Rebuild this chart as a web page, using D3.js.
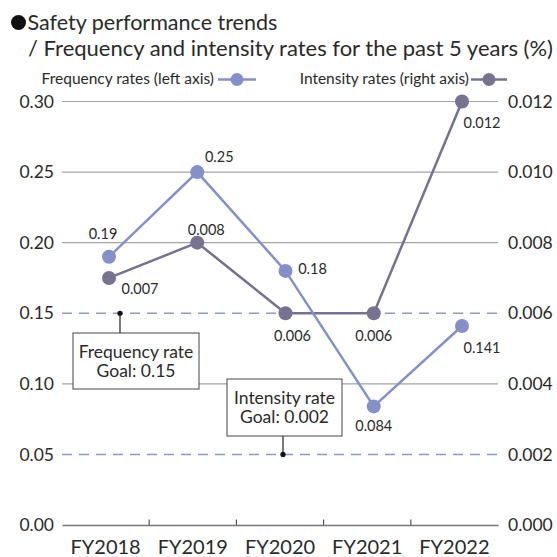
<!DOCTYPE html>
<html>
<head>
<meta charset="utf-8">
<script src="https://cdn.jsdelivr.net/npm/d3@7"></script>
<style>
  html, body { margin: 0; padding: 0; background: #fff; }
  svg { display: block; font-family: Lato, "Open Sans", sans-serif; }
</style>
</head>
<body>
<svg id="chart" width="557" height="557"></svg>
<script>
// Fiscal years on the x axis
const years = ['FY2018', 'FY2019', 'FY2020', 'FY2021', 'FY2022'];
// Lost-time injury frequency rate (left axis)
const frequencyRates = [0.19, 0.25, 0.18, 0.084, 0.141];
// Severity / intensity rate (right axis)
const intensityRates = [0.007, 0.008, 0.006, 0.006, 0.012];
// Axis ticks
const leftTicks = [0, 0.05, 0.10, 0.15, 0.20, 0.25, 0.30];
const rightTicks = [0, 0.002, 0.004, 0.006, 0.008, 0.010, 0.012];
// Targets
const frequencyGoal = 0.15;
const intensityGoal = 0.002;

const FREQ_COLOR = '#8490ca';
const INT_COLOR = '#77728f';
const GRID_COLOR = '#a3a3a3';
const GOAL_DASH = '#8f97c9';
const TEXT = '#2a2a2a';

const svg = d3.select('#chart');

const plotLeft = 62, plotRight = 498, plotTop = 101.5, plotBottom = 525;

const xBand = d3.scaleBand().domain(years).range([plotLeft, plotRight]);
const xPoint = d3.scalePoint().domain(years).range([109, 462]);
const yLeft = d3.scaleLinear().domain([0, 0.30]).range([plotBottom, plotTop]);
const yRight = d3.scaleLinear().domain([0, 0.012]).range([plotBottom, plotTop]);

// Title
const title = svg.append('g').attr('fill', TEXT);
title.append('circle').attr('cx', 18.5).attr('cy', 22.5).attr('r', 7.5).attr('fill', '#111');
title.append('text').attr('x', 27.5).attr('y', 30).attr('font-size', 21.5).text('Safety performance trends');
title.append('text').attr('x', 28).attr('y', 56).attr('font-size', 22)
  .text('/ Frequency and intensity rates for the past 5 years (%)');

// Legend
function legendItem(textEnd, lineStart, lineEnd, color, label) {
  const g = svg.append('g');
  g.append('text').attr('x', textEnd).attr('y', 84).attr('text-anchor', 'end')
    .attr('font-size', 15.5).attr('fill', TEXT).text(label);
  g.append('line').attr('x1', lineStart).attr('x2', lineEnd).attr('y1', 79.5).attr('y2', 79.5)
    .attr('stroke', color).attr('stroke-width', 2.5);
  g.append('circle').attr('cx', (lineStart + lineEnd) / 2).attr('cy', 79.5).attr('r', 6.5).attr('fill', color);
}
legendItem(214, 218, 256, FREQ_COLOR, 'Frequency rates (left axis)');
legendItem(469, 471, 507, INT_COLOR, 'Intensity rates (right axis)');

// Solid gridlines (goal levels are drawn dashed instead)
const dashedLevels = [yLeft(frequencyGoal), yRight(intensityGoal)];
svg.append('g').selectAll('line')
  .data(leftTicks.filter(d => d > 0 && !dashedLevels.some(p => Math.abs(p - yLeft(d)) < 1)))
  .join('line')
  .attr('x1', plotLeft).attr('x2', plotRight)
  .attr('y1', d => yLeft(d)).attr('y2', d => yLeft(d))
  .attr('stroke', GRID_COLOR).attr('stroke-width', 1.2);

// Goal lines
svg.append('g').selectAll('line')
  .data(dashedLevels)
  .join('line')
  .attr('x1', plotLeft).attr('x2', plotRight)
  .attr('y1', d => d).attr('y2', d => d)
  .attr('stroke', GOAL_DASH).attr('stroke-width', 1.5)
  .attr('stroke-dasharray', '10,7');

// Goal annotation boxes
function goalBox(x0, y0, w, h, lines, anchorX, anchorY, fromTop) {
  const g = svg.append('g');
  const boxEdge = fromTop ? y0 : y0 + h;
  g.append('line').attr('x1', anchorX).attr('x2', anchorX).attr('y1', anchorY).attr('y2', boxEdge)
    .attr('stroke', '#222').attr('stroke-width', 1.2);
  g.append('circle').attr('cx', anchorX).attr('cy', anchorY).attr('r', 2.6).attr('fill', '#111');
  g.append('rect').attr('x', x0).attr('y', y0).attr('width', w).attr('height', h)
    .attr('fill', '#fff').attr('stroke', '#444').attr('stroke-width', 1);
  lines.forEach((t, i) => {
    g.append('text').attr('x', x0 + w / 2).attr('y', y0 + 25 + i * 19)
      .attr('text-anchor', 'middle').attr('font-size', 17.5).attr('fill', TEXT).text(t);
  });
}
goalBox(73, 333, 126, 56, ['Frequency rate', 'Goal: ' + frequencyGoal], 120, yLeft(frequencyGoal), true);
goalBox(227, 379, 115, 57, ['Intensity rate', 'Goal: ' + intensityGoal.toFixed(3)], 283, yRight(intensityGoal), false);

// Left axis
const leftAxis = svg.append('g').attr('transform', `translate(${plotLeft},0)`)
  .call(d3.axisLeft(yLeft).tickValues(leftTicks).tickFormat(d3.format('.2f')).tickSize(0).tickPadding(8));
leftAxis.select('.domain').remove();
leftAxis.selectAll('text').attr('font-size', 17.5).attr('fill', TEXT).attr('font-family', 'Lato');

// Right axis
const rightAxis = svg.append('g').attr('transform', `translate(${plotRight},0)`)
  .call(d3.axisRight(yRight).tickValues(rightTicks).tickFormat(d3.format('.3f')).tickSize(0).tickPadding(10));
rightAxis.select('.domain').remove();
rightAxis.selectAll('text').attr('font-size', 17.5).attr('fill', TEXT).attr('font-family', 'Lato');

// Bottom axis
const bottomAxis = svg.append('g').attr('transform', `translate(0,${plotBottom})`)
  .call(d3.axisBottom(xBand).tickSize(0).tickPadding(15));
bottomAxis.select('.domain').attr('stroke', '#777').attr('stroke-width', 1.5);
bottomAxis.selectAll('text').attr('font-size', 20).attr('fill', TEXT).attr('font-family', 'Lato');
// Separator ticks between fiscal years
bottomAxis.selectAll('line.sep')
  .data(years.slice(1))
  .join('line').attr('class', 'sep')
  .attr('x1', d => xBand(d)).attr('x2', d => xBand(d))
  .attr('y1', 0).attr('y2', -5.5)
  .attr('stroke', '#555').attr('stroke-width', 1.2);

// Series
function drawSeries(values, y, color) {
  const line = d3.line().x((d, i) => xPoint(years[i])).y(d => y(d));
  svg.append('path').datum(values).attr('d', line)
    .attr('fill', 'none').attr('stroke', color).attr('stroke-width', 2.5);
  svg.append('g').selectAll('circle').data(values).join('circle')
    .attr('cx', (d, i) => xPoint(years[i])).attr('cy', d => y(d)).attr('r', 7)
    .attr('fill', color);
}
drawSeries(intensityRates, yRight, INT_COLOR);
drawSeries(frequencyRates, yLeft, FREQ_COLOR);

// Value labels, offset from each marker
const freqOffsets = [[-6, -18], [22, -10], [27, 3], [0, 25], [20, 27]];
const intOffsets = [[31, 16], [9, -8], [7, 28], [0, 28], [20, 26]];
function drawLabels(values, y, offsets) {
  svg.append('g').selectAll('text').data(values).join('text')
    .attr('x', (d, i) => xPoint(years[i]) + offsets[i][0])
    .attr('y', (d, i) => y(d) + offsets[i][1])
    .attr('text-anchor', 'middle').attr('font-size', 14.5).attr('fill', TEXT)
    .text(d => String(d));
}
drawLabels(frequencyRates, yLeft, freqOffsets);
drawLabels(intensityRates, yRight, intOffsets);
</script>
</body>
</html>
